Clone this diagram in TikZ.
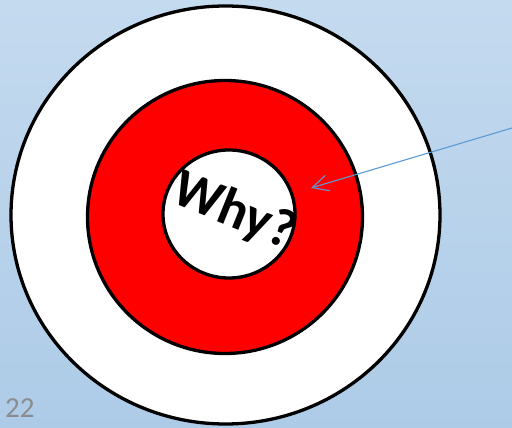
\documentclass[tikz,border=0pt]{standalone}
\usepackage{fontspec}
\setmainfont{Carlito}
\usetikzlibrary{arrows.meta}
\definecolor{bgtop}{HTML}{C4DAEF}
\definecolor{bgbot}{HTML}{ADCBE7}
\definecolor{ringred}{HTML}{FF0000}
\definecolor{arrowblue}{HTML}{5B9BD5}
\definecolor{pagenum}{HTML}{8C8C8C}
\tikzset{
  ring/.style={line width=3.3pt, draw=black},
  pointer/.style={draw=arrowblue, line width=1.1pt, -{Straight Barb[length=16pt,width=16pt,line width=1.1pt]}}
}
\begin{document}
\begin{tikzpicture}[x=1pt,y=1pt]
  \shade[top color=bgtop, bottom color=bgbot] (0,0) rectangle (512,428);
  \useasboundingbox (0,0) rectangle (512,428);
  \begin{scope}
    \clip (0,0) rectangle (512,428);
    \filldraw[ring, fill=white] (225.5,213) ellipse [x radius=214.5, y radius=209];
  \end{scope}
  \filldraw[ring, fill=ringred] (225,211) ellipse [x radius=137.5, y radius=136.5];
  \filldraw[ring, fill=white] (229,214) ellipse [x radius=66, y radius=64];
  \node (why) [rotate=-22, font=\fontsize{54}{58}\selectfont\bfseries] at (234,216) {Why?};
  \coordinate (src) at (512,300);
  \coordinate (tip) at (311,240);
  \draw[pointer] (src) -- (tip);
  \node (num) [anchor=base west, inner sep=0pt, text=pagenum, font=\fontsize{29}{32}\selectfont] at (5,10) {22};
\end{tikzpicture}
\end{document}
